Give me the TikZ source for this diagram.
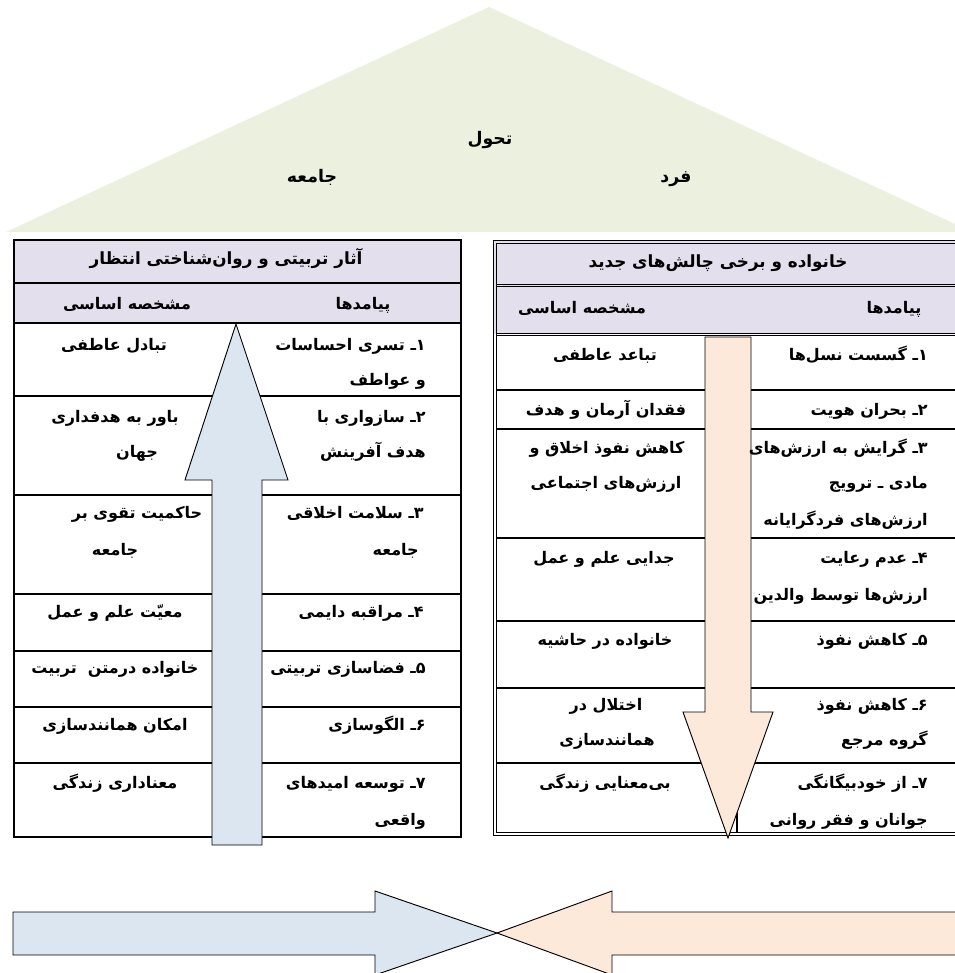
\documentclass[tikz,border=0pt]{standalone}
\usepackage{fontspec}
\newfontfamily\farsi[Script=Arabic]{DejaVu Sans}
\TeXXeTstate=1
\newcommand\rtl[1]{\beginR #1\endR}
\definecolor{tricol}{HTML}{EBF1DE}
\definecolor{hdrcol}{HTML}{E4DFEC}
\definecolor{bluecol}{HTML}{DCE6F1}
\definecolor{orgcol}{HTML}{FDE9D9}
\tikzset{
  txt/.style={font=\farsi\bfseries\fontsize{12}{14}\selectfont, inner sep=0pt},
  big/.style={font=\farsi\bfseries\fontsize{12.6}{15}\selectfont},
  tri/.style={font=\farsi\bfseries\fontsize{13}{15}\selectfont},
  rt/.style={txt, anchor=base east},
  ct/.style={txt, anchor=base},
  rule/.style={draw=black, line width=0.8pt},
  thin/.style={draw=black, line width=0.6pt},
  arr/.style={draw=black, line width=0.7pt, line join=miter},
}
\begin{document}
\begin{tikzpicture}[x=0.75pt, y=-0.75pt]
\useasboundingbox (0,0) rectangle (955,973);
\clip (0,0) rectangle (955,973);
\fill[white] (0,0) rectangle (955,973);
% triangle
\fill[tricol] (6,232) -- (489,7) -- (972,232) -- cycle;
\node[ct, tri] (t1) at (490,145) {\rtl{تحول}};
\node[ct, tri] (t2) at (312,183) {\rtl{جامعه}};
\node[ct, tri] (t3) at (676,183) {\rtl{فرد}};

% ===== left table =====
\fill[hdrcol] (14,240) rectangle (461,323);
\draw[rule] (14,240) rectangle (461,837);
\foreach \yy in {283,323,396,495,594,651,707,763} \draw[rule] (13,\yy) -- (461,\yy);
% up arrow
\draw[arr, fill=bluecol] (212,845) -- (212,480) -- (185,480) -- (236,324) -- (288,480) -- (262,480) -- (262,845) -- cycle;

\node[ct, big] (lt) at (226,265) {\rtl{آثار تربیتی و روان^^^^200cشناختی انتظار}};
\node[ct] (lh1) at (127,310) {\rtl{مشخصه اساسی}};
\node[ct] (lh2) at (363,310) {\rtl{پیامدها}};

\node[rt] (la1) at (426,350) {\rtl{۱ـ تسری احساسات}};
\node[rt] (la1b) at (426,385) {\rtl{و عواطف}};
\node[rt] (la2) at (426,422) {\rtl{۲ـ سازواری با}};
\node[rt] (la2b) at (426,457) {\rtl{هدف آفرینش}};
\node[rt] (la3) at (424,518) {\rtl{۳ـ سلامت اخلاقی}};
\node[rt] (la3b) at (419,555) {\rtl{جامعه}};
\node[rt] (la4) at (424,617) {\rtl{۴ـ مراقبه دایمی}};
\node[rt] (la5) at (426,673) {\rtl{۵ـ فضاسازی تربیتی}};
\node[rt] (la6) at (426,730) {\rtl{۶ـ الگوسازی}};
\node[rt] (la7) at (426,788) {\rtl{۷ـ توسعه امیدهای}};
\node[rt] (la7b) at (426,825) {\rtl{واقعی}};

\node[ct] (lb1) at (114,350) {\rtl{تبادل عاطفی}};
\node[ct] (lb2) at (115,422) {\rtl{باور به هدفداری}};
\node[ct] (lb2b) at (137,457) {\rtl{جهان}};
\node[ct] (lb3) at (137,518) {\rtl{حاکمیت تقوی بر}};
\node[ct] (lb3b) at (115,555) {\rtl{جامعه}};
\node[ct] (lb4) at (115,617) {\rtl{معیّت علم و عمل}};
\node[ct] (lb5) at (115,673) {\rtl{خانواده درمتن\ \ تربیت}};
\node[ct] (lb6) at (115,730) {\rtl{امکان همانندسازی}};
\node[ct] (lb7) at (115,788) {\rtl{معناداری زندگی}};

% ===== right table =====
\fill[hdrcol] (494,241) rectangle (960,334);
\foreach \yy in {390,429,538,621,688,763} \draw[rule] (496.5,\yy) -- (960,\yy);
\draw[rule] (737,763) -- (737,832);
\draw[thin] (493.5,240.5) rectangle (962,835);
\draw[thin] (496.5,243.5) rectangle (962,832);
\foreach \yy in {284,286.5,333,335.5} \draw[thin] (496.5,\yy) -- (962,\yy);
% down arrow
\draw[arr, fill=orgcol] (705,337) -- (751,337) -- (751,712) -- (773,712) -- (728,838) -- (683,712) -- (705,712) -- cycle;

\node[ct, big] (rt0) at (718,268) {\rtl{خانواده و برخی چالش^^^^200cهای جدید}};
\node[ct] (rh1) at (582,313) {\rtl{مشخصه اساسی}};
\node[ct] (rh2) at (894,313) {\rtl{پیامدها}};

\node[rt] (ra1) at (928,360) {\rtl{۱ـ گسست نسل^^^^200cها}};
\node[rt] (ra2) at (928,415) {\rtl{۲ـ بحران هویت}};
\node[rt] (ra3) at (928,453) {\rtl{۳ـ گرایش به ارزش^^^^200cهای}};
\node[rt] (ra3b) at (928,488) {\rtl{مادی ـ ترویج}};
\node[rt] (ra3c) at (928,525) {\rtl{ارزش^^^^200cهای فردگرایانه}};
\node[rt] (ra4) at (928,563) {\rtl{۴ـ عدم رعایت}};
\node[rt] (ra4b) at (928,600) {\rtl{ارزش^^^^200cها توسط والدین}};
\node[rt] (ra5) at (928,645) {\rtl{۵ـ کاهش نفوذ}};
\node[rt] (ra6) at (928,710) {\rtl{۶ـ کاهش نفوذ}};
\node[rt] (ra6b) at (928,745) {\rtl{گروه مرجع}};
\node[rt] (ra7) at (928,788) {\rtl{۷ـ از خودبیگانگی}};
\node[rt] (ra7b) at (928,825) {\rtl{جوانان و فقر روانی}};

\node[ct] (rb1) at (605,360) {\rtl{تباعد عاطفی}};
\node[ct] (rb2) at (606,415) {\rtl{فقدان آرمان و هدف}};
\node[ct] (rb3) at (607,453) {\rtl{کاهش نفوذ اخلاق و}};
\node[ct] (rb3b) at (606,488) {\rtl{ارزش^^^^200cهای اجتماعی}};
\node[ct] (rb4) at (604,563) {\rtl{جدایی علم و عمل}};
\node[ct] (rb5) at (605,645) {\rtl{خانواده در حاشیه}};
\node[ct] (rb6) at (606,710) {\rtl{اختلال در}};
\node[ct] (rb6b) at (607,745) {\rtl{همانندسازی}};
\node[ct] (rb7) at (605,788) {\rtl{بی^^^^200cمعنایی زندگی}};

% ===== bottom arrows =====
\draw[arr, fill=bluecol] (13,912) -- (375,912) -- (375,891) -- (497,933) -- (375,975) -- (375,955) -- (13,955) -- cycle;
\draw[arr, fill=orgcol] (962,912) -- (612,912) -- (612,891) -- (497,933) -- (612,975) -- (612,955) -- (962,955) -- cycle;
\end{tikzpicture}
\end{document}
